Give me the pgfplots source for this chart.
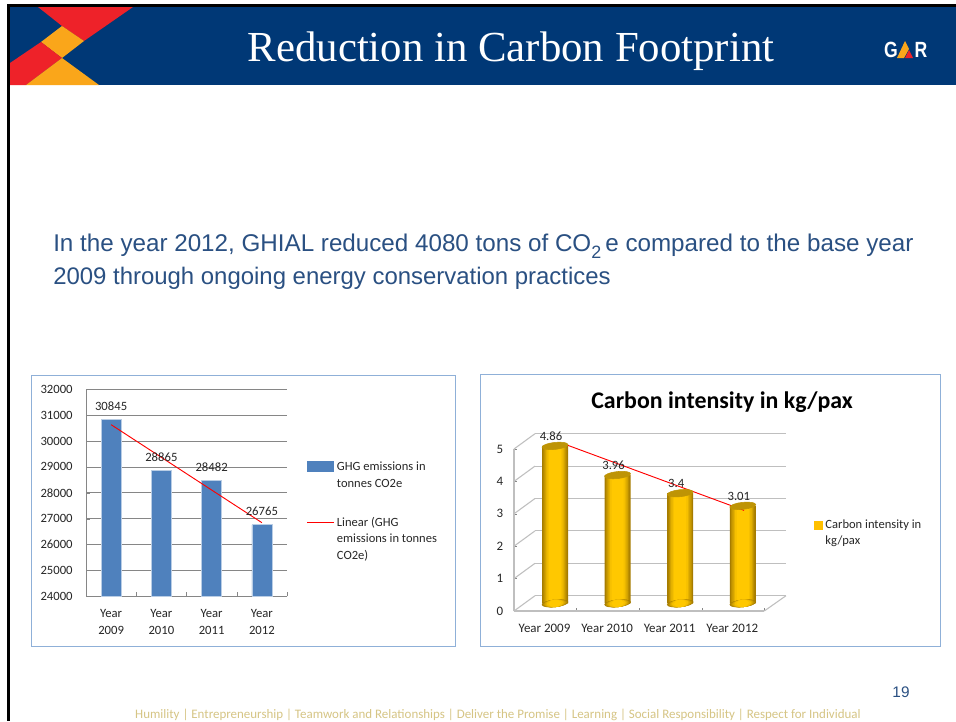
\documentclass[border=0pt]{standalone}
\usepackage{pgfplots}
\usepackage{pgfplotstable}
\pgfplotsset{compat=1.18}
\usepackage{fontspec}
\setmainfont{Carlito}
\newfontfamily\arialf{Liberation Sans}
\newfontfamily\timesf{Liberation Serif}
\definecolor{hdr}{HTML}{003876}
\definecolor{lred}{HTML}{EE2229}
\definecolor{lora}{HTML}{FAA61A}
\definecolor{bodyb}{HTML}{2A5082}
\definecolor{panel}{HTML}{8FB0D8}
\definecolor{barb}{HTML}{4F81BD}
\definecolor{barl}{HTML}{B9CDE5}
\definecolor{gridg}{HTML}{868686}
\definecolor{wallg}{HTML}{BFBFBF}
\definecolor{txt}{HTML}{262626}
\definecolor{foot}{HTML}{D6C585}
\definecolor{cylL}{HTML}{A67C00}
\definecolor{cylM}{HTML}{FFC800}
\definecolor{cylT}{HTML}{BE9405}
\definecolor{legY}{HTML}{FFC000}
\pgfplotstableread{
x y b
0 4.86 0
1 3.96 0
2 3.4 0
3 3.01 0
}\cyldata
\newcommand\cylbase[2]{\addplot[only marks,mark=*,mark size=9.75pt,
  color=cylM!#2!cylL,mark options={rotate=6,xscale=#1,yscale=.27,fill=cylM!#2!cylL,draw=none},forget plot]
  table[x=x,y=b]{\cyldata};}
\newcommand\cylbody[2]{\addplot[ybar,bar width=#1pt,draw=none,fill=cylM!#2!cylL,forget plot]
  table[x=x,y=y]{\cyldata};}
\begin{document}
\begin{tikzpicture}
\path[use as bounding box] (0,0) rectangle (717pt,-540.75pt);
\begin{scope}[x=0.75pt,y=-0.75pt]
\fill[white] (0,0) rectangle (956,721);
\fill[black] (7,4) rectangle (956,7);
\fill[black] (7,4) rectangle (10,721);
\fill[hdr] (10,7) rectangle (956,85);
\fill[lred] (38,7) -- (133,7) -- (84,41) -- (62,26) -- cycle;
\fill[lora] (62,26) -- (84,41) -- (62,58) -- (41,42) -- cycle;
\fill[lred] (41,42) -- (62,58) -- (26,85) -- (10,85) -- (10,63) -- cycle;
\fill[lora] (62,58) -- (99,85) -- (26,85) -- cycle;
\node[anchor=center,text=white,inner sep=0pt,font=\timesf\fontsize{32.1}{36}\selectfont] at (511,51) {Reduction in Carbon Footprint};
\node[anchor=center,text=white,inner sep=0pt,xscale=.8,font=\arialf\bfseries\fontsize{16.5}{18}\selectfont] at (891,50) {G};
\node[anchor=center,text=white,inner sep=0pt,xscale=.8,font=\arialf\bfseries\fontsize{16.5}{18}\selectfont] at (921,50) {R};
\fill[lora] (897,58) -- (905,41) -- (909,49) -- (904,58) -- cycle;
\fill[lred] (905,58) -- (909,50) -- (913,58) -- cycle;
\node[anchor=base west,text=bodyb,inner sep=0pt,font=\arialf\fontsize{18.15}{20}\selectfont] at (53,251) {In the year 2012, GHIAL reduced 4080 tons of CO\raisebox{-.3em}{\fontsize{13.4}{14}\selectfont 2}\,e compared to the base year};
\node[anchor=base west,text=bodyb,inner sep=0pt,font=\arialf\fontsize{17.95}{20}\selectfont] at (53,284) {2009 through ongoing energy conservation practices};
\draw[panel,line width=0.7pt] (31,375) rectangle (455,646);
\draw[panel,line width=0.7pt] (480,374.5) rectangle (940,646.5);
\node[anchor=center,text=bodyb,inner sep=0pt,font=\arialf\fontsize{11.5}{13}\selectfont] at (901,692) {19};
\node[anchor=center,text=foot,inner sep=0pt,font=\fontsize{9.72}{11}\selectfont] at (498,715) {Humility | Entrepreneurship | Teamwork and Relationships | Deliver the Promise | Learning | Social Responsibility | Respect for Individual};
\end{scope}

% left chart
\begin{axis}[
  at={(86*0.75pt,-596.3*0.75pt)}, anchor=south west,
  width=201*0.75pt, height=207*0.75pt, scale only axis,
  xmin=-0.5, xmax=3.5, ymin=24000, ymax=32000,
  axis x line*=bottom, axis y line*=left,
  axis line style={gridg,-},
  ytick={24000,25000,...,32000},
  ymajorgrids, grid style={gridg,line width=0.6pt},
  xtick={-0.5,0.5,1.5,2.5,3.5},
  xticklabels={},
  extra x ticks={0,1,2,3},
  extra x tick labels={{Year\\2009},{Year\\2010},{Year\\2011},{Year\\2012}},
  extra x tick style={xtick style={draw=none},major tick length=0pt,
    tick label style={align=center,yshift=-6.5pt}},
  major tick length=3pt,
  xtick style={gridg},
  ytick style={gridg},
  tick pos=lower,
  tick label style={font=\fontsize{9.5}{12.6}\selectfont,text=txt},
  y tick label style={xshift=-6.5pt},
  /pgf/number format/assume math mode=true,
  /pgf/number format/1000 sep={},
  scaled y ticks=false,
  legend style={at={(1.1,0.665)},anchor=north west,draw=none,fill=none,
    font=\fontsize{9.4}{12.6}\selectfont,text=txt,
    cells={align=left,anchor=west},row sep=17pt,inner sep=0pt},
  legend cell align=left,
  clip=false,
]
\addplot[ybar,bar width=15pt,fill=barb,draw=barl,line width=0.5pt,
  nodes near coords,
  nodes near coords style={font=\fontsize{9.5}{11}\selectfont,text=txt,
    /pgf/number format/assume math mode=true,/pgf/number format/1000 sep={},
    yshift=3pt},
  legend image code/.code={\fill[barb] (0pt,3.35pt) rectangle (19.5pt,10.15pt);}
  ] coordinates {(0,30845) (1,28865) (2,28482) (3,26765)};
\addlegendentry{GHG emissions in\\tonnes CO2e}
\addplot[red,line width=0.7pt,
  legend image code/.code={\fill[red] (0pt,12.45pt) rectangle (19.5pt,13.05pt);}
  ] coordinates {(0,30633) (3,26846)};
\addlegendentry{Linear (GHG\\emissions in tonnes\\CO2e)}
\end{axis}

% right chart
\begin{axis}[
  at={(514*0.75pt,-611*0.75pt)}, anchor=south west,
  width=272*0.75pt, height=177.3*0.75pt, scale only axis,
  xmin=-0.655, xmax=3.69, ymin=-0.236, ymax=5.236,
  axis line style={draw=none},
  axis x line*=bottom, axis y line*=left,
  ytick={-0.236,0.764,1.764,2.764,3.764,4.764},
  yticklabels={0,1,2,3,4,5},
  xtick={-0.655,0.343,1.343,2.343,3.343},
  xticklabels={},
  extra x ticks={-0.168,0.832,1.832,2.832},
  extra x tick labels={Year 2009,Year 2010,Year 2011,Year 2012},
  extra x tick style={xtick style={draw=none},major tick length=0pt,
    tick label style={yshift=-6.5pt}},
  major tick length=2.5pt,
  xtick style={gridg},
  ytick style={gridg},
  tick pos=lower,
  tick label style={font=\fontsize{9.7}{12}\selectfont,text=txt},
  y tick label style={xshift=-4.5pt},
  /pgf/number format/assume math mode=true,
  title={\fontsize{17.9}{20}\selectfont\bfseries Carbon intensity in kg/pax},
  title style={at={(axis description cs:0.765,1.134)},anchor=center,inner sep=0pt},
  legend style={at={(1.103,0.54)},anchor=north west,draw=none,fill=none,
    font=\fontsize{9.4}{12}\selectfont,text=txt,
    cells={align=left,anchor=west},inner sep=0pt,yshift=-1pt},
  legend cell align=left,
  clip=false,
]
% back wall gridlines, floor and side diagonals
\addplot[wallg,line width=0.8pt,forget plot] coordinates {(-0.32,5.236) (3.69,5.236)};
\addplot[wallg,line width=0.8pt,forget plot] coordinates {(-0.32,4.236) (3.69,4.236)};
\addplot[wallg,line width=0.8pt,forget plot] coordinates {(-0.32,3.236) (3.69,3.236)};
\addplot[wallg,line width=0.8pt,forget plot] coordinates {(-0.32,2.236) (3.69,2.236)};
\addplot[wallg,line width=0.8pt,forget plot] coordinates {(-0.32,1.236) (3.69,1.236)};
\addplot[wallg,line width=0.8pt,forget plot] coordinates {(-0.32,0.236) (3.69,0.236)};
\addplot[wallg,line width=0.8pt,forget plot] coordinates {(-0.655,-0.236) (-0.655,4.764)};
\addplot[wallg,line width=0.8pt,forget plot] coordinates {(-0.655,-0.236) (3.343,-0.236)};
\addplot[wallg,line width=0.8pt,forget plot] coordinates {(3.343,-0.236) (3.69,0.236)};
\addplot[wallg,line width=0.8pt,forget plot] coordinates {(-0.655,-0.236) (-0.32,0.236)};
\addplot[wallg,line width=0.8pt,forget plot] coordinates {(-0.655,0.764) (-0.32,1.236)};
\addplot[wallg,line width=0.8pt,forget plot] coordinates {(-0.655,1.764) (-0.32,2.236)};
\addplot[wallg,line width=0.8pt,forget plot] coordinates {(-0.655,2.764) (-0.32,3.236)};
\addplot[wallg,line width=0.8pt,forget plot] coordinates {(-0.655,3.764) (-0.32,4.236)};
\addplot[wallg,line width=0.8pt,forget plot] coordinates {(-0.655,4.764) (-0.32,5.236)};
% cylinders: nested strips stand in for the side shading
\cylbase{1}{0}\cylbase{0.9}{25}\cylbase{0.8}{50}\cylbase{0.7}{70}\cylbase{0.6}{90}\cylbase{0.45}{100}
\cylbody{19.5}{0}\cylbody{17.5}{25}\cylbody{15.5}{50}\cylbody{13.5}{70}\cylbody{11.5}{90}\cylbody{9}{100}
\addplot[only marks,mark=*,mark size=9.75pt,mark options={rotate=6,yscale=.27,fill=cylT,draw=none},forget plot,color=cylT,
  nodes near coords,
  nodes near coords style={font=\fontsize{9.5}{11}\selectfont,text=txt,
    /pgf/number format/assume math mode=true,xshift=-3pt,yshift=0.5pt}]
  table[x=x,y=y]{\cyldata};
\addplot[red,line width=0.7pt,forget plot] coordinates {(0.187,4.89) (3.02,2.87)};
\addlegendimage{legend image code/.code={\fill[legY] (0pt,3pt) rectangle (6pt,9pt);}}
\addlegendentry{Carbon intensity in\\kg/pax}
\end{axis}
\end{tikzpicture}
\end{document}
